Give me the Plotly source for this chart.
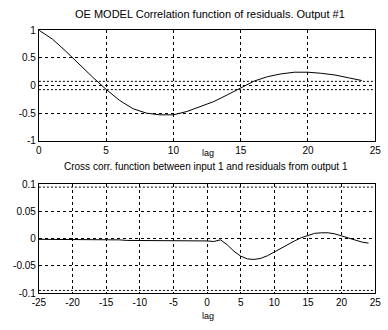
import plotly.graph_objects as go

# Top: autocorrelation of residuals
lag_auto = list(range(0, 25))
auto_corr = [1.0, 0.84, 0.62, 0.38, 0.15, -0.07, -0.27, -0.42, -0.50, -0.53,
             -0.53, -0.47, -0.38, -0.29, -0.17, -0.04, 0.08, 0.16, 0.21, 0.24,
             0.24, 0.22, 0.19, 0.14, 0.09]
auto_conf = 0.075

# Bottom: cross correlation input 1 / residuals
lag_cross = list(range(-25, 25))
cross_corr = [-0.001, -0.001, -0.001, -0.001, -0.001, -0.001, -0.001, -0.001, -0.001, -0.001,
              -0.001, -0.001, -0.002, -0.003, -0.003, -0.003, -0.003, -0.003, -0.004, -0.004,
              -0.004, -0.004, -0.004, -0.004, -0.004,
              -0.004, -0.005, -0.002, -0.011, -0.023, -0.032, -0.037, -0.038, -0.036, -0.031,
              -0.024, -0.017, -0.011, -0.004, 0.002, 0.006, 0.010, 0.011, 0.011, 0.009,
              0.005, 0.001, -0.003, -0.006, -0.008]
cross_conf = 0.095

x_ticks_top = [0, 5, 10, 15, 20, 25]
y_ticks_top = [-1, -0.5, 0, 0.5, 1]
y_labels_top = ["-1", "-0.5", "0", "0.5", "1"]
x_ticks_bot = [-25, -20, -15, -10, -5, 0, 5, 10, 15, 20, 25]
x_labels_bot = ["-25", "-20", "-15", "-10", "-5", "0", "5", "10", "15", "20", "25"]
y_ticks_bot = [-0.1, -0.05, 0, 0.05, 0.1]
y_labels_bot = ["-0.1", "-0.05", "0", "0.05", "0.1"]

title_top = "OE MODEL Correlation function of residuals. Output #1"
title_bot = "Cross corr. function between input 1 and residuals from output 1"

fam = "Liberation Sans, Arial, sans-serif"
font = dict(family=fam, size=10, color="black")

fig = go.Figure()
fig.add_trace(go.Scatter(x=lag_auto, y=auto_corr, mode="lines",
                         line=dict(color="black", width=1), xaxis="x", yaxis="y",
                         showlegend=False, hoverinfo="skip"))
for c in (auto_conf, -auto_conf):
    fig.add_trace(go.Scatter(x=[0, 25], y=[c, c], mode="lines",
                             line=dict(color="black", width=1, dash="2px,2px"),
                             xaxis="x", yaxis="y", showlegend=False, hoverinfo="skip"))
fig.add_trace(go.Scatter(x=lag_cross, y=cross_corr, mode="lines",
                         line=dict(color="black", width=1), xaxis="x2", yaxis="y2",
                         showlegend=False, hoverinfo="skip"))
for c in (cross_conf, -cross_conf):
    fig.add_trace(go.Scatter(x=[-25, 25], y=[c, c], mode="lines",
                             line=dict(color="black", width=1, dash="2px,2px"),
                             xaxis="x2", yaxis="y2", showlegend=False, hoverinfo="skip"))

ax_common = dict(showline=True, mirror=True, linecolor="black", linewidth=1,
                 showgrid=True, gridcolor="black", griddash="3px,3px", gridwidth=1,
                 zeroline=False, ticks="", tickfont=font)

fig.update_layout(
    width=388, height=330,
    margin=dict(l=0, r=0, t=0, b=0),
    paper_bgcolor="white", plot_bgcolor="white",
    font=font,
    xaxis=dict(domain=[0.085, 0.982], range=[0, 25], tickvals=x_ticks_top,
               anchor="y", **ax_common),
    yaxis=dict(domain=[0.576, 0.924], range=[-1, 1], tickvals=y_ticks_top,
               ticktext=y_labels_top, anchor="x", **ax_common),
    xaxis2=dict(domain=[0.085, 0.982], range=[-25, 25], tickvals=x_ticks_bot,
                ticktext=x_labels_bot, anchor="y2", **ax_common),
    yaxis2=dict(domain=[0.097, 0.439], range=[-0.1, 0.1], tickvals=y_ticks_bot,
                ticktext=y_labels_bot, anchor="x2", **ax_common),
    annotations=[
        dict(text=title_top, x=0.54, y=1 - 8 / 330, xref="paper", yref="paper",
             showarrow=False, font=dict(family=fam, size=11, color="black"),
             xanchor="center", yanchor="middle"),
        dict(text="lag", x=208 / 388, y=1 - 153 / 330, xref="paper", yref="paper",
             showarrow=False, font=dict(family=fam, size=9, color="black"),
             xanchor="center", yanchor="middle"),
        dict(text=title_bot, x=0.53, y=1 - 167 / 330, xref="paper", yref="paper",
             showarrow=False, font=font, xanchor="center", yanchor="middle"),
        dict(text="lag", x=208 / 388, y=1 - 322 / 330, xref="paper", yref="paper",
             showarrow=False, font=dict(family=fam, size=9, color="black"),
             xanchor="center", yanchor="middle"),
    ],
)

fig.write_html("out.html")
